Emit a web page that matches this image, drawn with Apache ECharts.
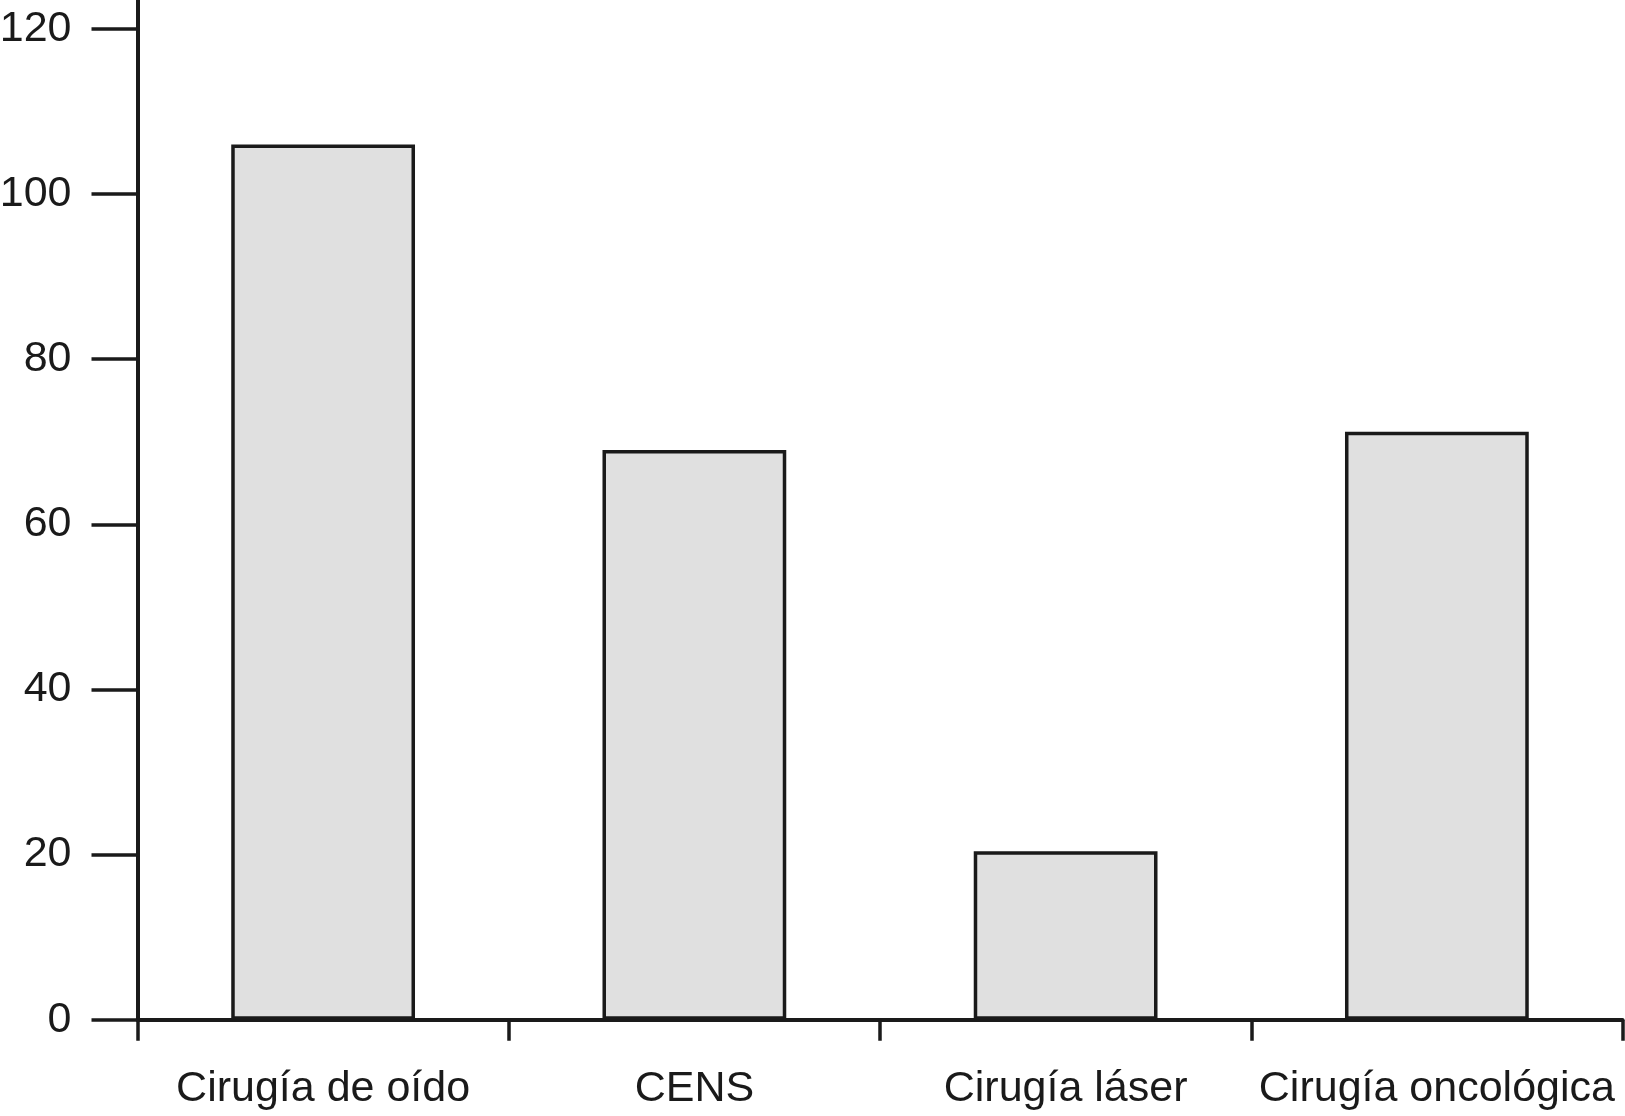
<!DOCTYPE html>
<html>
<head>
<meta charset="utf-8">
<script src="https://cdn.jsdelivr.net/npm/echarts@6/dist/echarts.min.js"></script>
<style>
html,body{margin:0;padding:0;background:#fff;}
#chart{width:1625px;height:1116px;}
</style>
</head>
<body>
<div id="chart"></div>
<script>
const categories = ['Cirugía de oído', 'CENS', 'Cirugía láser', 'Cirugía oncológica'];
const values = [106, 69, 20.4, 71.2];
const yTicks = [0, 20, 40, 60, 80, 100, 120];

const chart = echarts.init(document.getElementById('chart'), null, {renderer: 'canvas'});
const ink = '#1a1a1a';
chart.setOption({
  backgroundColor: '#ffffff',
  animation: false,
  grid: {left: 137.5, right: 2.5, top: 0, bottom: 96.3, containLabel: false, outerBoundsMode: 'none'},
  xAxis: {
    type: 'category',
    data: categories,
    boundaryGap: true,
    axisLine: {show: true, lineStyle: {color: ink, width: 4}},
    axisTick: {show: true, alignWithLabel: false, length: 21, lineStyle: {color: ink, width: 3.5}},
    axisLabel: {
      show: true, interval: 0, margin: 48, hideOverlap: false,
      color: ink, fontSize: 43, fontFamily: 'Liberation Sans, Arial, sans-serif'
    },
    splitLine: {show: false}
  },
  yAxis: {
    type: 'value',
    min: 0,
    max: 123.5,
    axisLine: {show: true, onZero: false, lineStyle: {color: ink, width: 4}},
    axisTick: {show: true, length: 46, customValues: yTicks, lineStyle: {color: ink, width: 3.5}},
    axisLabel: {
      show: true, margin: 66, customValues: yTicks,
      color: ink, fontSize: 43, fontFamily: 'Liberation Sans, Arial, sans-serif'
    },
    splitLine: {show: false}
  },
  series: [{
    type: 'bar',
    data: values,
    barWidth: '49.5%',
    itemStyle: {color: '#e0e0e0', borderColor: ink, borderWidth: 3.5}
  }]
});
</script>
</body>
</html>
